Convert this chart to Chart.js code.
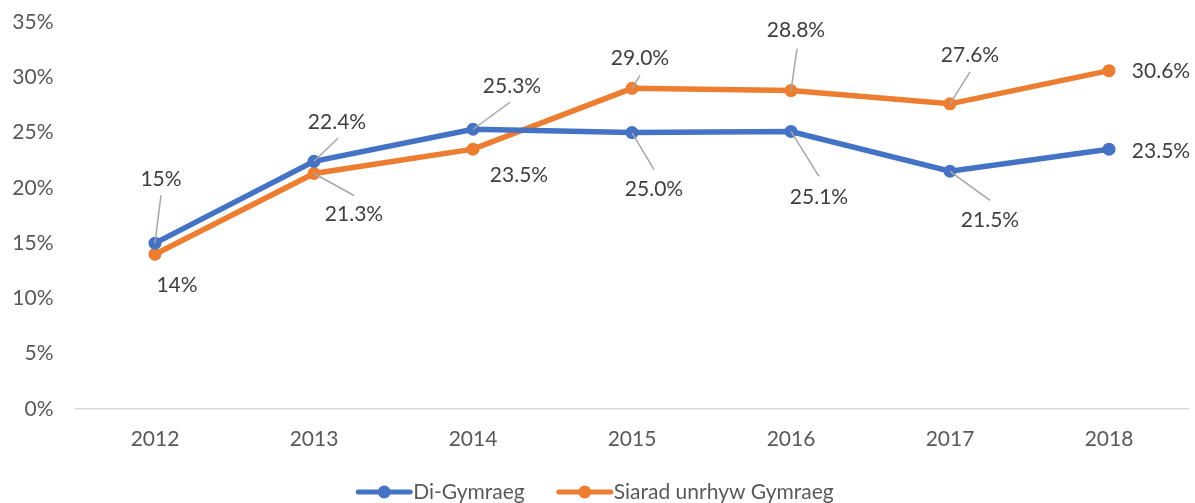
<!DOCTYPE html>
<html>
<head>
<meta charset="utf-8">
<script src="https://cdn.jsdelivr.net/npm/chart.js@4/dist/chart.umd.min.js"></script>
<style>
  html, body { margin: 0; padding: 0; background: #ffffff; }
  #wrap { width: 1195px; height: 503px; position: relative; }
</style>
</head>
<body>
<div id="wrap"><canvas id="chart" width="1195" height="503"></canvas></div>
<script>
// Years on the horizontal axis
const years = ['2012', '2013', '2014', '2015', '2016', '2017', '2018'];

// Share (%) for each group
const diGymraeg = [15, 22.4, 25.3, 25.0, 25.1, 21.5, 23.5];
const siaradGymraeg = [14, 21.3, 23.5, 29.0, 28.8, 27.6, 30.6];

// Decimal places shown in each year's value label
const labelDecimals = [0, 1, 1, 1, 1, 1, 1];

// Vertical axis tick values
const yTicks = [0, 5, 10, 15, 20, 25, 30, 35];

const BLUE = '#4472C4';
const ORANGE = '#ED7D31';
const FONT = 'Lato, "Open Sans", "Noto Sans", sans-serif';

// Placement of each value label relative to its point: [dx, dy] for the text
// centre, and the end of the leader line (null where no leader is drawn).
const labelPlacement = [
  {
    text:   [[6, -64], [23, -39], [39, -43], [22, 57], [28, 66], [40, 49], [52, 2]],
    leader: [[6, -48], [24, -23], [37, -27], [22, 37], [28, 45], [40, 29], null]
  },
  {
    text:   [[22, 31], [40, 41], [46, 26], [8, -30], [5, -60], [20, -49], [52, 1]],
    leader: [null, [40, 22], null, [8, -13], [6, -42], [20, -32], null]
  }
];

const valueLabels = {
  id: 'valueLabels',
  afterDatasetsDraw(chart) {
    const ctx = chart.ctx;
    chart.data.datasets.forEach((ds, di) => {
      const meta = chart.getDatasetMeta(di);
      const place = labelPlacement[di];
      meta.data.forEach((pt, i) => {
        const v = ds.data[i];
        const txt = v.toFixed(labelDecimals[i]) + '%';
        const [tx, ty] = place.text[i];
        const ld = place.leader[i];
        ctx.save();
        if (ld) {
          ctx.strokeStyle = '#A6A6A6';
          ctx.lineWidth = 1.5;
          ctx.beginPath();
          ctx.moveTo(pt.x, pt.y);
          ctx.lineTo(pt.x + ld[0], pt.y + ld[1]);
          ctx.stroke();
        }
        ctx.fillStyle = '#404040';
        ctx.font = '21px ' + FONT;
        ctx.textAlign = 'center';
        ctx.textBaseline = 'middle';
        ctx.fillText(txt, pt.x + tx, pt.y + ty);
        ctx.restore();
      });
    });
  }
};

// Legend drawn as a line with a marker, like the series themselves
const lineLegend = {
  id: 'lineLegend',
  afterDraw(chart) {
    const ctx = chart.ctx;
    const y = 492;
    const seg = 52, gapText = 3, gapItem = 34;
    ctx.save();
    ctx.font = '21px ' + FONT;
    const items = chart.data.datasets.map(ds => ({
      label: ds.label, color: ds.borderColor, w: ctx.measureText(ds.label).width
    }));
    let total = 0;
    items.forEach((it, i) => { total += seg + gapText + it.w + (i ? gapItem : 0); });
    let x = (chart.chartArea.left + chart.chartArea.right) / 2 - total / 2 - 36;
    items.forEach((it, i) => {
      if (i) x += gapItem;
      ctx.strokeStyle = it.color;
      ctx.lineWidth = 5;
      ctx.lineCap = 'round';
      ctx.beginPath();
      ctx.moveTo(x, y);
      ctx.lineTo(x + seg, y);
      ctx.stroke();
      ctx.fillStyle = it.color;
      ctx.beginPath();
      ctx.arc(x + seg / 2, y, 6.5, 0, Math.PI * 2);
      ctx.fill();
      x += seg + gapText;
      ctx.fillStyle = '#595959';
      ctx.textAlign = 'left';
      ctx.textBaseline = 'middle';
      ctx.fillText(it.label, x, y);
      x += it.w;
    });
    ctx.restore();
  }
};

new Chart(document.getElementById('chart'), {
  type: 'line',
  data: {
    labels: years,
    datasets: [
      {
        label: 'Di-Gymraeg',
        data: diGymraeg,
        borderColor: BLUE,
        backgroundColor: BLUE,
        borderWidth: 5.5,
        pointRadius: 6.5,
        pointBorderWidth: 0,
        pointBackgroundColor: BLUE,
        tension: 0
      },
      {
        label: 'Siarad unrhyw Gymraeg',
        data: siaradGymraeg,
        borderColor: ORANGE,
        backgroundColor: ORANGE,
        borderWidth: 5.5,
        pointRadius: 6.5,
        pointBorderWidth: 0,
        pointBackgroundColor: ORANGE,
        tension: 0
      }
    ]
  },
  options: {
    responsive: false,
    animation: false,
    devicePixelRatio: 1,
    layout: { padding: { top: 22, right: 6.5, left: 0, bottom: 0 } },
    plugins: {
      legend: { display: false },
      tooltip: { enabled: false }
    },
    scales: {
      x: {
        offset: true,
        grid: { display: false, drawTicks: false },
        border: { display: true, color: '#D9D9D9', width: 1.5 },
        ticks: { color: '#595959', font: { family: FONT, size: 21 }, padding: 18 },
        afterFit(scale) { scale.height = 94; }
      },
      y: {
        min: 0,
        max: 35,
        grid: { display: false, drawTicks: false },
        border: { display: false },
        afterBuildTicks(scale) { scale.ticks = yTicks.map(v => ({ value: v })); },
        ticks: {
          color: '#595959',
          font: { family: FONT, size: 21 },
          padding: 22,
          callback: v => v + '%'
        },
        afterFit(scale) {
          scale.width = 75.5;
          scale.paddingTop = 0;
          scale.paddingBottom = 0;
        }
      }
    }
  },
  plugins: [valueLabels, lineLegend]
});
</script>
</body>
</html>
